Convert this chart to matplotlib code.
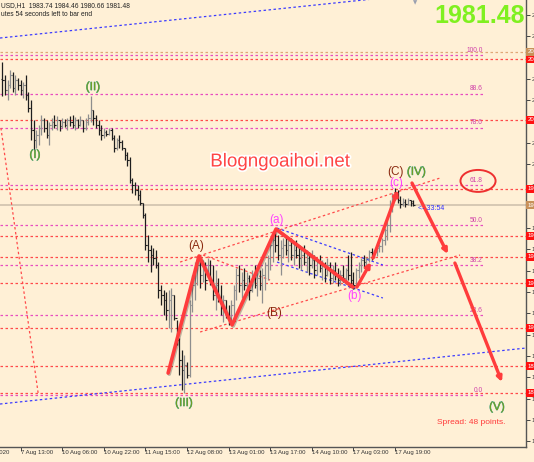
import matplotlib
matplotlib.use('Agg')
import matplotlib.pyplot as plt
import matplotlib.patheffects as pe
from matplotlib.patches import Ellipse
import numpy as np

plt.rcParams['font.family'] = ['Liberation Sans', 'DejaVu Sans']

# XAUUSD H1 bars
highs = [2070.6, 2062.5, 2059.4, 2065.7, 2064.4, 2062.5, 2060.7, 2059.4, 2058.2, 2062.5,
         2051.9, 2047.0, 2034.5, 2028.2, 2031.4, 2037.6, 2035.7, 2034.5, 2033.2, 2035.7,
         2037.6, 2037.0, 2034.5, 2035.7, 2035.1, 2035.7, 2037.0, 2037.6, 2036.4, 2035.1,
         2037.0, 2034.5, 2035.7, 2038.2, 2049.4, 2040.7, 2037.6, 2034.5, 2031.4, 2029.5,
         2028.2, 2029.5, 2029.5, 2025.1, 2023.3, 2025.1, 2022.0, 2017.0, 2014.5, 2011.4,
         1998.3, 1995.8, 1994.0, 1990.8, 1982.7, 1976.5, 1962.8, 1956.5, 1954.7, 1953.4,
         1945.9, 1931.6, 1928.5, 1927.2, 1928.5, 1929.7, 1925.4, 1909.8, 1898.6, 1891.1,
         1888.0, 1883.6, 1922.2, 1937.8, 1945.9, 1949.7, 1948.4, 1947.2, 1945.9, 1948.4,
         1947.2, 1944.1, 1941.0, 1936.0, 1931.6, 1925.4, 1922.2, 1919.1, 1922.2, 1931.6,
         1942.2, 1944.1, 1939.7, 1942.2, 1939.7, 1937.8, 1941.0, 1944.1, 1939.7, 1941.0,
         1942.2, 1945.9, 1950.3, 1959.7, 1964.6, 1966.5, 1962.8, 1959.7, 1960.9, 1962.2,
         1959.7, 1960.9, 1958.4, 1959.7, 1956.5, 1954.7, 1956.5, 1953.4, 1952.2, 1953.4,
         1950.3, 1948.4, 1950.3, 1947.2, 1945.9, 1948.4, 1945.9, 1944.1, 1945.9, 1942.2,
         1941.0, 1944.1, 1942.2, 1950.3, 1952.2, 1939.7, 1942.2, 1945.9, 1948.4, 1950.3,
         1949.1, 1953.4, 1954.7, 1953.4, 1956.5, 1957.2, 1960.9, 1967.1, 1972.1, 1984.6,
         1989.0, 1992.1, 1990.8, 1987.1, 1985.8, 1985.2, 1985.8, 1984.6, 1984.46]
lows = [2049.4, 2050.1, 2047.0, 2054.4, 2051.9, 2050.1, 2053.2, 2050.1, 2048.2, 2047.0,
        2039.5, 2022.0, 2015.8, 2017.0, 2018.9, 2025.1, 2027.0, 2023.3, 2018.9, 2028.2,
        2029.5, 2028.2, 2027.6, 2029.5, 2030.1, 2028.2, 2030.7, 2029.5, 2028.2, 2029.5,
        2030.7, 2027.0, 2028.2, 2031.4, 2033.2, 2031.4, 2029.5, 2025.1, 2022.0, 2023.3,
        2024.5, 2025.1, 2022.0, 2014.5, 2015.8, 2017.0, 2015.8, 2009.5, 2005.8, 1995.2,
        1989.0, 1987.7, 1984.6, 1981.5, 1973.4, 1953.4, 1945.9, 1939.7, 1944.1, 1942.2,
        1923.5, 1919.1, 1912.9, 1909.8, 1904.8, 1902.3, 1909.8, 1894.2, 1875.5, 1866.1,
        1864.3, 1873.6, 1874.2, 1914.8, 1922.2, 1931.6, 1929.7, 1933.5, 1928.5, 1936.0,
        1931.6, 1922.2, 1916.0, 1921.0, 1912.9, 1908.5, 1911.0, 1906.7, 1907.3, 1911.0,
        1922.2, 1927.2, 1923.5, 1928.5, 1925.4, 1922.2, 1927.2, 1929.7, 1924.7, 1928.5,
        1920.4, 1928.5, 1934.7, 1941.0, 1945.9, 1952.2, 1947.2, 1937.8, 1948.4, 1950.3,
        1945.9, 1947.2, 1944.1, 1948.4, 1942.2, 1941.0, 1944.1, 1939.7, 1937.8, 1942.2,
        1936.0, 1937.8, 1939.7, 1934.7, 1933.5, 1937.2, 1932.2, 1932.9, 1934.7, 1931.0,
        1931.6, 1933.5, 1932.2, 1934.7, 1931.6, 1929.1, 1931.6, 1936.0, 1939.7, 1942.2,
        1943.4, 1945.9, 1947.2, 1948.4, 1949.7, 1952.2, 1952.2, 1956.5, 1959.7, 1964.6,
        1977.1, 1984.6, 1982.7, 1979.6, 1980.9, 1980.2, 1981.5, 1980.9, 1980.66]
closes = [2059.4, 2053.2, 2056.3, 2062.5, 2054.4, 2059.4, 2056.3, 2053.2, 2056.3, 2050.1,
          2042.0, 2028.2, 2022.0, 2025.1, 2029.5, 2034.5, 2029.5, 2025.1, 2031.4, 2033.2,
          2031.4, 2034.5, 2030.7, 2033.2, 2031.4, 2034.5, 2033.2, 2031.4, 2034.5, 2031.4,
          2034.5, 2029.5, 2033.2, 2035.7, 2040.7, 2035.7, 2031.4, 2028.2, 2025.1, 2027.0,
          2025.8, 2028.2, 2023.3, 2017.0, 2022.0, 2020.8, 2017.0, 2012.7, 2009.5, 1997.1,
          1994.0, 1990.8, 1987.7, 1982.7, 1975.2, 1956.5, 1953.4, 1950.3, 1948.4, 1944.1,
          1928.5, 1925.4, 1922.2, 1916.0, 1922.2, 1925.4, 1911.0, 1897.3, 1884.8, 1878.6,
          1881.7, 1875.5, 1919.1, 1931.6, 1942.2, 1944.1, 1937.8, 1944.1, 1934.7, 1944.1,
          1934.7, 1925.4, 1931.6, 1923.5, 1917.3, 1922.2, 1912.9, 1911.0, 1919.1, 1928.5,
          1937.8, 1931.6, 1934.7, 1931.6, 1936.0, 1928.5, 1937.8, 1931.6, 1936.0, 1931.6,
          1937.8, 1944.1, 1948.4, 1956.5, 1959.7, 1956.5, 1950.3, 1954.7, 1956.5, 1953.4,
          1956.5, 1950.3, 1953.4, 1950.3, 1948.4, 1950.3, 1945.9, 1948.4, 1944.1, 1947.2,
          1941.0, 1945.9, 1942.2, 1944.1, 1937.8, 1944.1, 1936.0, 1941.0, 1937.8, 1934.7,
          1937.8, 1936.0, 1941.0, 1937.8, 1934.7, 1931.6, 1941.0, 1944.1, 1947.2, 1945.9,
          1948.4, 1952.2, 1950.3, 1952.2, 1954.7, 1955.9, 1959.7, 1965.9, 1969.0, 1981.5,
          1985.8, 1985.8, 1984.6, 1982.1, 1983.4, 1982.1, 1984.6, 1982.7, 1981.48]
first_open = 2060.0
last_open = 1983.74
bid = 1981.48

time_ticks = [-9, 7, 23, 39, 55, 71, 87, 103, 119, 135, 151]
time_labels = ['6 Aug 2020', '7 Aug 13:00', '10 Aug 06:00', '10 Aug 22:00', '11 Aug 15:00',
               '12 Aug 08:00', '13 Aug 01:00', '13 Aug 17:00', '14 Aug 10:00',
               '17 Aug 03:00', '17 Aug 19:00']

price_ticks = [2099.9, 2086.6, 2073.3, 2060.1, 2046.8, 2033.5, 2020.2, 2006.9, 1993.6,
               1980.4, 1967.1, 1953.8, 1940.5, 1927.2, 1913.9, 1900.7, 1887.4, 1874.1,
               1860.8, 1847.5, 1834.2]

# fibonacci retracement
fib_low = 1863.0
fib_high = 2075.0
fib_levels = [0.0, 23.6, 38.2, 50.0, 61.8, 78.6, 88.6, 100.0]

# horizontal support / resistance lines
red_levels = [2072.5, 2034.5, 1991.5, 1962.2, 1949.1, 1932.8, 1904.8, 1881.1, 1864.3]
tan_level = 2076.9

# elliott wave drawing
wave_x = [63.7, 75.6, 88.3, 105.2, 134.8]
wave_y = [1876.7, 1949.7, 1906.7, 1966.5, 1930.3]
arrows = [((136.3, 1930.3), (141.7, 1945.9)),
          ((142.5, 1948.4), (152.1, 1990.8)),
          ((157.5, 1995.2), (171.3, 1950.9)),
          ((174.0, 1945.3), (192.1, 1871.1))]

red_dotted = [((-0.6, 2029.5), (13.7, 1864.3)),
              ((68.3, 1945.9), (168.3, 1998.3)),
              ((76.0, 1902.3), (176.0, 1950.3)),
              ((77.1, 1950.3), (102.9, 1934.7))]
blue_dotted = [((-0.96, 2085.6), (201.35, 2119.9)),
               ((-0.96, 1857.4), (201.35, 1892.3)),
               ((105.6, 1967.1), (146.3, 1944.1)),
               ((105.6, 1945.9), (146.3, 1923.5))]

wave_labels = [('(I)', 12.5, 2012.7, 'green'), ('(II)', 34.8, 2055.0, 'green'),
               ('(III)', 69.8, 1858.0, 'green'), ('(A)', 74.4, 1955.9, 'brown'),
               ('(B)', 104.4, 1914.1, 'brown'), ('(a)', 105.2, 1972.1, 'pink'),
               ('(b)', 135.2, 1924.7, 'pink'), ('(c)', 151.3, 1995.2, 'pink'),
               ('(C)', 151.3, 2002.1, 'brown'), ('(IV)', 159.2, 2002.1, 'green'),
               ('(V)', 190.2, 1855.5, 'green')]
label_colors = {'green': '#6f9e22', 'brown': '#8b2a10', 'pink': '#ff44ff'}

bg = '#fff0d6'
fig = plt.figure(figsize=(5.34, 4.62), dpi=100, facecolor=bg)
ax = fig.add_axes([0, 15 / 462, 526 / 534, 447 / 462], facecolor=bg)
ax.set_xlim(-0.96, 201.35)
ax.set_ylim(1830.6, 2109.3)

dot = (0, (2, 2))
for lv in red_levels:
    ax.axhline(lv, color='#ff4a4a', lw=0.9, ls=dot, zorder=1)
ax.axhline(tan_level, color='#e0a878', lw=0.9, ls=dot, zorder=1)
ax.axhline(bid, color='#cfc2ae', lw=1.2, zorder=1)

fib_end = 184.8
for lv in fib_levels:
    p = fib_low + lv / 100 * (fib_high - fib_low)
    ax.plot([-0.96, fib_end], [p, p], color='#e84cc0', lw=0.9, ls=dot, zorder=1)
    ax.text(fib_end, p + 0.8, '%.1f' % lv, color='#d040a8', fontsize=4.8,
            ha='right', va='bottom', zorder=2)

for (x0, y0), (x1, y1) in red_dotted:
    ax.plot([x0, x1], [y0, y1], color='#ff4a4a', lw=0.9, ls=dot, zorder=1)
for (x0, y0), (x1, y1) in blue_dotted:
    ax.plot([x0, x1], [y0, y1], color='#3b3bff', lw=0.9, ls=dot, zorder=1)

# OHLC bars
idx = np.arange(len(highs))
opens = [first_open] + closes[:-1]
opens[-1] = last_open
cols = ['#8e8e8e' if c > o else '#1e1e1e' for o, c in zip(opens, closes)]
ax.vlines(idx, lows, highs, colors=cols, lw=0.9, zorder=3)
ax.hlines(opens, idx - 0.5, idx, colors=cols, lw=0.8, zorder=3)
ax.hlines(closes, idx, idx + 0.5, colors=cols, lw=0.8, zorder=3)

shadow = [pe.SimpleLineShadow(offset=(0.8, -0.8), alpha=0.25), pe.Normal()]
wave_red = '#ff3c3c'
ax.plot(wave_x, wave_y, color=wave_red, lw=2.6, solid_capstyle='round',
        path_effects=shadow, zorder=4)
for start, end in arrows:
    ax.annotate('', xy=end, xytext=start,
                arrowprops=dict(arrowstyle='-|>', color=wave_red, lw=2.4,
                                mutation_scale=7, shrinkA=0, shrinkB=0),
                zorder=4)

for txt, x, y, c in wave_labels:
    ax.text(x, y, txt, color=label_colors[c], fontsize=8.5, ha='center', va='center',
            zorder=5, path_effects=[pe.withStroke(linewidth=0.4, foreground='#3aa5a0')]
            if c == 'green' else None)

ax.text(159.8, 1979.6, '<- 33:54', color='#2f2fff', fontsize=5, ha='left', va='center',
        zorder=5)

ax.add_patch(Ellipse((182.9, 1996.5), 13.5, 13.7, fill=False, ec='#ee3030', lw=1.4,
                     zorder=5))

# axes like the terminal
for s in ['left', 'top']:
    ax.spines[s].set_visible(False)
for s in ['right', 'bottom']:
    ax.spines[s].set_color('#555555')
    ax.spines[s].set_linewidth(1)
ax.yaxis.tick_right()
ax.set_yticks(price_ticks)
ax.set_yticklabels(['%.2f' % p for p in price_ticks])
ax.tick_params(axis='y', direction='out', length=3, width=0.7, colors='#444444',
               labelsize=4.3, pad=1)
ax.set_xticks([t for t in time_ticks if t > -0.96])
ax.set_xticklabels([])
ax.tick_params(axis='x', direction='out', length=3, width=0.7, colors='#444444')
for t, lab in zip(time_ticks, time_labels):
    ax.text(t, -0.006, lab, transform=ax.get_xaxis_transform(), fontsize=4.3,
            color='#333333', ha='left', va='top', clip_on=False)

for lv in red_levels:
    ax.annotate('%.2f' % lv, xy=(1, lv), xycoords=('axes fraction', 'data'),
                xytext=(1.2, 0), textcoords='offset points', fontsize=4.3, color='white',
                ha='left', va='center', annotation_clip=False,
                bbox=dict(boxstyle='square,pad=0.25', fc='#ff1010', ec='none'))
for lv in [tan_level, bid]:
    ax.annotate('%.2f' % lv, xy=(1, lv), xycoords=('axes fraction', 'data'),
                xytext=(1.2, 0), textcoords='offset points', fontsize=4.3, color='white',
                ha='left', va='center', annotation_clip=False,
                bbox=dict(boxstyle='square,pad=0.25', fc='#c8915a', ec='none'))

fig.text(0.002, 1 - 6 / 462, 'USD,H1  1983.74 1984.46 1980.66 1981.48', fontsize=4.8,
         color='#222222', va='center', ha='left')
fig.text(0.002, 1 - 15 / 462, 'utes 54 seconds left to bar end', fontsize=4.8,
         color='#222222', va='center', ha='left')
fig.text(525 / 534, 1 - 16 / 462, '1981.48', fontsize=18, fontweight='bold',
         color='#80f020', ha='right', va='center')
fig.text(280 / 534, 1 - 162 / 462, 'Blogngoaihoi.net', fontsize=13.5, color='#ff4545',
         ha='center', va='center',
         path_effects=[pe.withStroke(linewidth=2.5, foreground='white')])
fig.text(471 / 534, 1 - 422 / 462, 'Spread: 48 points.', fontsize=6, color='#ff3a3a',
         ha='center', va='center')
fig.text(415 / 534, 1 - 3 / 462, '\u25bc', fontsize=4, color='#9aa0b0', ha='center',
         va='center', family=['DejaVu Sans'])

fig.savefig('out.png', dpi=100, facecolor=bg)
